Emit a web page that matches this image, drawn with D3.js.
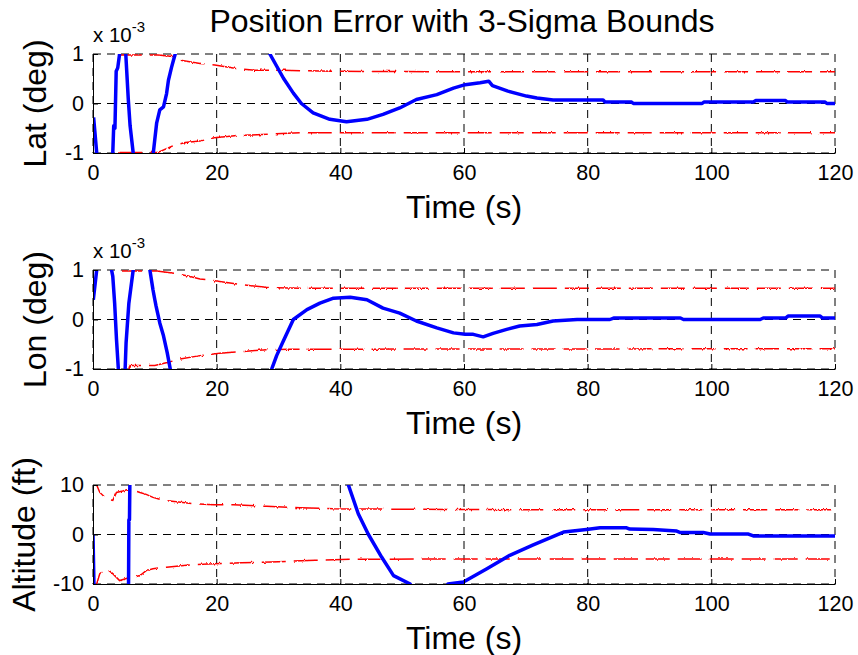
<!DOCTYPE html>
<html>
<head>
<meta charset="utf-8">
<title>Position Error with 3-Sigma Bounds</title>
<script src="https://cdn.jsdelivr.net/npm/d3@7"></script>
<style>
    body { margin: 0; background: #fff; font-family: "Liberation Sans", Arial, sans-serif; }
    .grid line { stroke: #000; stroke-dasharray: 8,6; stroke-width: 1; }
    .axis line, .axis path { stroke: #000; stroke-width: 1; }
    .err { fill: none; stroke: #0000ff; stroke-width: 3.5; stroke-linejoin: round; }
    .bound { fill: none; stroke: #ff0000; stroke-width: 1.5; stroke-dasharray: 24,8; }
</style>
</head>
<body>
<div id="chart"></div>
<script>
// time axis (s)
const timeTicks = [0, 20, 40, 60, 80, 100, 120];

// Lat error, units of 1e-3 deg  [t, value]
const latError = [[0.1,-0.28],[0.6,-1.0],[0.8,-1.6],[3.0,-1.6],[3.2,-1.0],[3.35,-0.45],[3.55,-0.5],[3.75,0.65],[4.0,0.72],[4.3,1.0],[4.5,1.6],
    [5.1,1.6],[5.3,1.0],[5.7,0.1],[6.0,-0.45],[6.5,-1.0],[6.7,-1.6],
    [9.5,-1.6],[9.75,-1.0],[10.0,-0.72],[10.3,-0.39],[10.8,-0.13],[11.4,-0.07],[11.9,0.2],[12.2,0.47],[12.7,0.73],[13.0,0.87],[13.3,1.0],[13.5,1.6],
    [28.3,1.6],[28.6,1.0],[30.8,0.51],[32.4,0.21],[33.7,0.0],[35.6,-0.19],[38.3,-0.32],[41.0,-0.37],[44.3,-0.32],[46.9,-0.22],[49.6,-0.09],
    [52.3,0.08],[55.6,0.18],[58.3,0.31],[60.2,0.38],[62.6,0.42],[64.0,0.45],[64.6,0.36],[67.1,0.25],[70.1,0.15],[71.8,0.11],[74.4,0.07],
    [82.5,0.07],[82.8,0.03],[87.1,0.03],[87.4,0.0],[98.5,0.0],[98.8,0.03],[106.8,0.03],[107.2,0.06],[112.0,0.06],[112.3,0.03],[118.4,0.03],[118.7,0.0],[120,0.0]];
const latUpper = [[0,1.4],[4.2,1.02],[4.4,0.98],[10.5,0.98],[13.0,0.95],[14.0,0.88],[17.3,0.81],[19.7,0.78],[22.9,0.71],[26.2,0.67],[30.7,0.67],[38.8,0.65],[60,0.64],[120,0.64]];
const latLower = [[0,-1.4],[4.2,-1.02],[4.4,-0.99],[10.5,-0.99],[13.0,-0.85],[14.9,-0.79],[17.3,-0.76],[19.7,-0.69],[22.9,-0.65],[28.3,-0.62],[33.5,-0.59],[120,-0.59]];

// Lon error, units of 1e-3 deg
const lonError = [[0.05,0.4],[0.6,1.0],[0.8,1.6],[2.8,1.6],[3.0,1.0],[3.2,0.87],[3.5,0.33],[3.8,-0.4],[4.1,-1.0],[4.3,-1.6],
    [5.0,-1.6],[5.2,-1.0],[5.35,-0.47],[5.8,0.33],[6.5,1.0],[6.7,1.6],
    [9.0,1.6],[9.2,1.0],[9.7,0.6],[10.0,0.4],[10.2,0.27],[10.8,-0.07],[11.4,-0.33],[12.0,-0.67],[12.5,-1.0],[12.7,-1.6],
    [28.7,-1.6],[28.9,-1.0],[29.7,-0.73],[30.8,-0.43],[32.4,0.0],[34.6,0.2],[36.7,0.33],[38.9,0.43],[41.6,0.45],[44.3,0.4],[46.9,0.23],
    [49.6,0.13],[52.3,-0.03],[55.6,-0.17],[58.3,-0.27],[60.2,-0.3],[61.5,-0.3],[63.1,-0.35],[64.7,-0.28],[66.9,-0.2],[69.0,-0.13],
    [71.8,-0.1],[74.4,-0.03],[78.3,0.0],[83.6,0.0],[84.2,0.03],[95.0,0.03],[95.5,0.0],[107.9,0.0],[108.4,0.03],[112.0,0.03],[112.4,0.07],
    [117.6,0.07],[118.0,0.03],[120,0.03]];
const lonUpper = [[0,1.4],[4.5,1.02],[4.7,0.98],[10.3,0.98],[13.3,0.93],[15.7,0.87],[17.3,0.82],[20.5,0.77],[24.3,0.7],[28.0,0.65],[33.5,0.63],[120,0.63]];
const lonLower = [[0,-1.4],[5.8,-1.02],[6.0,-0.93],[10.0,-0.93],[12.0,-0.87],[14.0,-0.8],[17.3,-0.73],[20.5,-0.68],[24.0,-0.65],[28.0,-0.61],[32.0,-0.6],[120,-0.59]];

// Altitude error (ft)
const altError = [[0,0],[0.15,-10],[0.3,-15],[5.6,-15],[5.75,-10],[5.8,3],[5.9,3],[6.0,15],
    [41.0,15],[41.3,10],[42.9,4.2],[44.5,0.1],[46.7,-4.6],[48.6,-8.3],[51.3,-10],[52.0,-13],[57.0,-13],
    [57.4,-10],[59.9,-9.6],[63.7,-6.9],[67.4,-4.2],[71.2,-2.1],[76.1,0.5],[79.8,1.0],[82.0,1.35],[86.3,1.35],[86.8,1.1],
    [90.6,1.0],[94.4,0.7],[95.0,0.4],[98.7,0.4],[99.8,0.1],[106.0,0.1],[106.8,-0.3],[120,-0.3]];
const altUpper = [[0.3,12],[0.6,10],[1.1,8.5],[2.2,7.2],[3.2,6.9],[3.8,8.5],[4.8,8.8],[5.9,9.2],[7.6,8.5],[8.6,8.1],[9.7,7.5],[11.4,6.9],
    [13.5,6.6],[16.2,6.2],[19.5,6.0],[22.7,6.0],[28.1,5.7],[33.5,5.4],[38.8,5.2],[50,5.1],[70,5.0],[120,5.0]];
const altLower = [[0.3,-12],[0.6,-10],[1.1,-7.9],[2.2,-6.9],[3.2,-7.9],[4.3,-9.3],[5.4,-8.9],[6.5,-8.6],[7.6,-8.3],[8.6,-7.3],[9.7,-6.9],
    [11.9,-6.6],[15.1,-6.2],[19.5,-5.9],[24,-5.7],[30,-5.5],[36,-5.2],[42,-5.0],[60,-4.95],[120,-4.95]];

const panels = [
    { id: "lat", label: "Lat (deg)", ticks: [-1, 0, 1], domain: [-1, 1], exp: true,
      err: latError, upper: latUpper, lower: latLower, top: 54, labelX: 46 },
    { id: "lon", label: "Lon (deg)", ticks: [-1, 0, 1], domain: [-1, 1], exp: true,
      err: lonError, upper: lonUpper, lower: lonLower, top: 270, labelX: 46 },
    { id: "alt", label: "Altitude (ft)", ticks: [-10, 0, 10], domain: [-10, 10], exp: false,
      err: altError, upper: altUpper, lower: altLower, top: 485, labelX: 35 }
];

function getChartConfig() {
    let width = 858;
    let height = 655;
    let left = 93, right = 835, plotHeight = 99;
    let svg = d3.select("#chart")
        .append("svg")
        .attr("width", width)
        .attr("height", height);
    // rough sensor-noise texture on the bound lines
    let f = svg.append("defs").append("filter").attr("id", "jag")
        .attr("x", "-2%").attr("y", "-50%").attr("width", "104%").attr("height", "200%");
    f.append("feTurbulence").attr("type", "fractalNoise").attr("baseFrequency", "0.7 0.15")
        .attr("numOctaves", 1).attr("seed", 3).attr("result", "noise");
    f.append("feDisplacementMap").attr("in", "SourceGraphic").attr("in2", "noise")
        .attr("scale", 3).attr("xChannelSelector", "R").attr("yChannelSelector", "G");
    return { width, height, left, right, plotHeight, svg };
}

function drawPanel(p, config) {
    let { svg, left, right, plotHeight } = config;
    let bottom = p.top + plotHeight;
    let xScale = d3.scaleLinear().domain([0, 120]).range([left, right]);
    let yScale = d3.scaleLinear().domain(p.domain).range([bottom, p.top]);
    let fmt = d => String(d);

    let g = svg.append("g").attr("id", p.id);

    g.append("clipPath").attr("id", "clip-" + p.id)
        .append("rect")
        .attr("x", left).attr("y", p.top)
        .attr("width", right - left).attr("height", plotHeight);

    // dashed grid
    let grid = g.append("g").attr("class", "grid");
    grid.selectAll(".gx").data(timeTicks).enter().append("line")
        .attr("x1", d => xScale(d)).attr("x2", d => xScale(d))
        .attr("y1", p.top).attr("y2", bottom);
    grid.selectAll(".gy").data(p.ticks).enter().append("line")
        .attr("x1", left).attr("x2", right)
        .attr("y1", d => yScale(d)).attr("y2", d => yScale(d));

    // data
    let line = d3.line().x(d => xScale(d[0])).y(d => yScale(d[1]));
    let plot = g.append("g").attr("clip-path", "url(#clip-" + p.id + ")");
    let bounds = plot.append("g").attr("filter", "url(#jag)");
    bounds.append("path").attr("class", "bound").attr("d", line(p.upper));
    bounds.append("path").attr("class", "bound").attr("d", line(p.lower));
    plot.append("path").attr("class", "err").attr("d", line(p.err));

    // axes
    let axisX = d3.axisBottom(xScale).tickValues(timeTicks).tickFormat(fmt)
        .tickSizeInner(-5).tickSizeOuter(0).tickPadding(12);
    let gx = g.append("g").attr("class", "axis")
        .attr("transform", "translate(0," + bottom + ")")
        .call(axisX);
    gx.selectAll("text").style("font-size", "21.5px").style("fill", "#000")
        .style("font-family", "Liberation Sans, Arial, sans-serif");

    let axisY = d3.axisLeft(yScale).tickValues(p.ticks).tickFormat(fmt)
        .tickSizeInner(-5).tickSizeOuter(0).tickPadding(9);
    let gy = g.append("g").attr("class", "axis")
        .attr("transform", "translate(" + left + ",0)")
        .call(axisY);
    gy.selectAll("text").style("font-size", "21.5px").style("fill", "#000")
        .style("font-family", "Liberation Sans, Arial, sans-serif");

    // labels
    g.append("text")
        .attr("x", (left + right) / 2).attr("y", bottom + 65)
        .attr("text-anchor", "middle")
        .style("font-size", "32px")
        .text("Time (s)");

    g.append("text")
        .attr("transform", "translate(" + p.labelX + "," + (p.top + plotHeight / 2) + ") rotate(-90)")
        .attr("text-anchor", "middle")
        .style("font-size", "32px")
        .text(p.label);

    if (p.exp) {
        let e = g.append("text")
            .attr("x", left).attr("y", p.top - 12)
            .style("font-size", "20.5px")
            .text("x 10");
        e.append("tspan").attr("dy", -10).style("font-size", "15px").text("-3");
    }
}

function showChart() {
    let config = getChartConfig();
    config.svg.append("text")
        .attr("x", 462).attr("y", 32)
        .attr("text-anchor", "middle")
        .style("font-size", "32px")
        .text("Position Error with 3-Sigma Bounds");
    panels.forEach(p => drawPanel(p, config));
}
showChart();
</script>
</body>
</html>
